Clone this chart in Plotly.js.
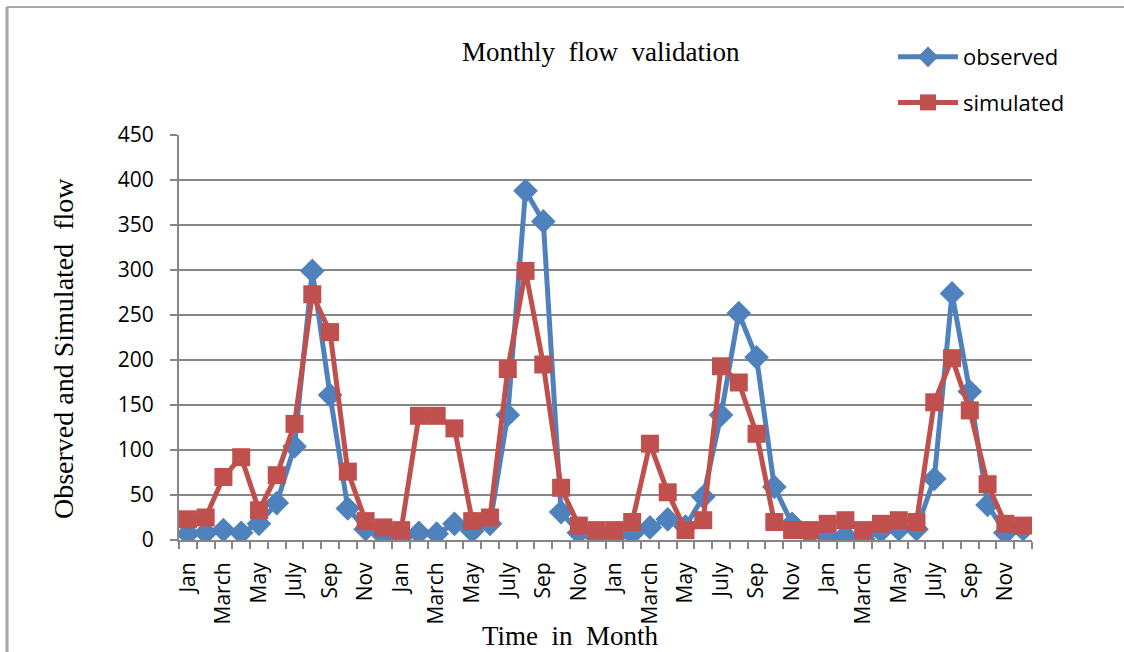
<!DOCTYPE html>
<html>
<head>
<meta charset="utf-8">
<script src="https://cdn.plot.ly/plotly-3.0.1.min.js"></script>
<style>
html,body{margin:0;padding:0;background:#fff;}
#chart{width:1124px;height:652px;}
</style>
</head>
<body>
<div id="chart"></div>
<script>
// 48 months (4 years)
const monthIndex = Array.from({length: 48}, (_, i) => i + 1);
const tickLabelNames = ["Jan","March","May","July","Sep","Nov"];

const observed = [7, 8, 11, 8, 18, 41, 104, 299, 161, 35, 12, 5,
                  3, 8, 7, 18, 10, 18, 139, 388, 354, 31, 8, 3,
                  3, 7, 14, 23, 15, 48, 139, 252, 203, 59, 18, 7,
                  3, 5, 1, 10, 12, 12, 68, 274, 165, 39, 8, 12];

const simulated = [23, 25, 70, 92, 33, 72, 129, 273, 231, 76, 21, 14,
                   11, 138, 138, 124, 21, 25, 190, 299, 195, 58, 16, 11,
                   11, 20, 107, 53, 11, 22, 193, 175, 118, 20, 11, 11,
                   18, 22, 11, 18, 22, 20, 153, 202, 144, 62, 18, 16];

const yTicks = [0, 50, 100, 150, 200, 250, 300, 350, 400, 450];

// tick positions: every other month, labels repeat each year
const tickVals = monthIndex.filter(m => (m - 1) % 2 === 0);
const tickText = tickVals.map(m => tickLabelNames[((m - 1) % 12) / 2]);

const gridColor = "#868686";
const tickFont = {family: "Open Sans, DejaVu Sans, sans-serif", size: 21, color: "#000"};
const serif = "Liberation Serif, Times New Roman, serif";

// paper coordinate helpers (plot area 179..1032 x, 135..540 y)
const px = p => (p - 179) / 853;
const py = p => (540 - p) / 405;

const traces = [
  {
    x: monthIndex, y: observed, name: "observed", type: "scatter", mode: "lines+markers",
    line: {color: "#4F81BD", width: 5},
    marker: {symbol: "diamond", size: 19, color: "#4F81BD"},
    legendgroup: "a"
  },
  {
    x: monthIndex, y: simulated, name: "simulated", type: "scatter", mode: "lines+markers",
    line: {color: "#C0504D", width: 5},
    marker: {symbol: "square", size: 18, color: "#C0504D"},
    legendgroup: "b"
  }
];

const layout = {
  width: 1124, height: 652,
  margin: {l: 179, r: 92, t: 135, b: 112},
  paper_bgcolor: "#fff", plot_bgcolor: "#fff",
  showlegend: true,
  legend: {
    x: px(893), y: py(36), xanchor: "left", yanchor: "top",
    font: {family: "Open Sans, DejaVu Sans, sans-serif", size: 22, color: "#000"},
    itemwidth: 60, tracegroupgap: 14, traceorder: "grouped",
    bgcolor: "rgba(0,0,0,0)"
  },
  xaxis: {
    range: [0.5, 48.5], tickmode: "array", tickvals: tickVals, ticktext: tickText,
    tickangle: -90, tickfont: tickFont, ticks: "", ticklabelstandoff: 12,
    showgrid: false, zeroline: false, showline: true, linecolor: gridColor, linewidth: 2,
    minor: {tick0: 0.5, dtick: 1, ticks: "outside", ticklen: 7, tickwidth: 2, tickcolor: gridColor, showgrid: false},
    fixedrange: true
  },
  yaxis: {
    range: [0, 450], tickmode: "array", tickvals: yTicks, tickfont: tickFont,
    ticks: "outside", ticklen: 7, tickwidth: 2, tickcolor: gridColor, ticklabelstandoff: 12,
    showgrid: true, gridcolor: gridColor, gridwidth: 2, zeroline: false,
    showline: true, linecolor: gridColor, linewidth: 2, fixedrange: true
  },
  annotations: [
    {text: "Monthly  flow  validation", xref: "paper", yref: "paper", x: px(601), y: py(52),
     xanchor: "center", yanchor: "middle", showarrow: false, font: {family: serif, size: 27, color: "#000"}},
    {text: "Time  in  Month", xref: "paper", yref: "paper", x: px(570), y: py(636),
     xanchor: "center", yanchor: "middle", showarrow: false, font: {family: serif, size: 27, color: "#000"}},
    {text: "Observed and Simulated  flow", xref: "paper", yref: "paper", x: px(63), y: py(349),
     xanchor: "center", yanchor: "middle", textangle: -90, showarrow: false, font: {family: serif, size: 28, color: "#000"}}
  ],
  shapes: [
    {type: "line", xref: "paper", yref: "paper", x0: px(7), x1: px(7), y0: py(660), y1: py(7), line: {color: "#A6A6A6", width: 3}},
    {type: "line", xref: "paper", yref: "paper", x0: px(7), x1: px(1130), y0: py(7), y1: py(7), line: {color: "#A6A6A6", width: 2}}
  ]
};

Plotly.newPlot("chart", traces, layout, {displayModeBar: false, staticPlot: true});
</script>
</body>
</html>
